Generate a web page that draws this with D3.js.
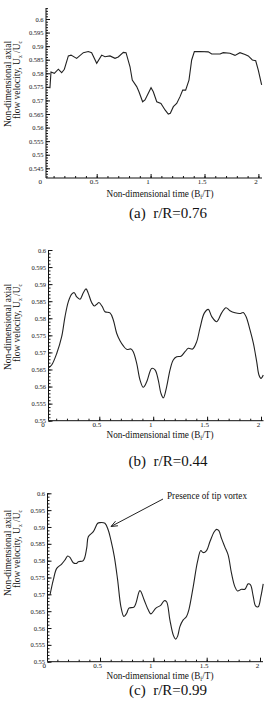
<!DOCTYPE html>
<html>
<head>
<meta charset="utf-8">
<script src="https://cdn.jsdelivr.net/npm/d3@7"></script>
<style>
  body { margin: 0; background: #fff; }
  svg text { font-family: "Liberation Serif", "DejaVu Serif", serif; fill: #111; }
</style>
</head>
<body>
<div id="container"></div>
<script>
// data: non-dimensional time vs axial velocity
var timeA = [0.066, 0.076, 0.107, 0.144, 0.175, 0.20, 0.237, 0.262, 0.314, 0.376, 0.422, 0.453, 0.50, 0.546, 0.577, 0.623, 0.67, 0.70, 0.747, 0.772, 0.809, 0.83, 0.871, 0.892, 0.926, 0.948, 1.004, 1.025, 1.057, 1.096, 1.134, 1.164, 1.183, 1.211, 1.242, 1.273, 1.298, 1.325, 1.356, 1.381, 1.406, 1.458, 1.535, 1.567, 1.644, 1.674, 1.736, 1.783, 1.829, 1.876, 1.906, 1.944, 1.975, 1.999, 2.03];
var velA  = [0.5745, 0.5805, 0.580, 0.5815, 0.5802, 0.5815, 0.5864, 0.5867, 0.5855, 0.5876, 0.588, 0.5876, 0.5837, 0.5867, 0.5861, 0.5864, 0.5855, 0.586, 0.5877, 0.5876, 0.5824, 0.5775, 0.5751, 0.5732, 0.5695, 0.5702, 0.5747, 0.5732, 0.5695, 0.5689, 0.5665, 0.565, 0.5653, 0.5677, 0.5689, 0.5714, 0.5738, 0.5738, 0.5775, 0.5849, 0.588, 0.588, 0.5879, 0.5871, 0.5871, 0.5876, 0.5874, 0.5866, 0.5876, 0.5869, 0.5864, 0.5849, 0.5846, 0.5812, 0.5757];

var timeB = [0.03, 0.058, 0.105, 0.151, 0.182, 0.213, 0.244, 0.268, 0.29, 0.321, 0.352, 0.377, 0.398, 0.429, 0.454, 0.476, 0.497, 0.528, 0.553, 0.599, 0.63, 0.661, 0.692, 0.723, 0.754, 0.794, 0.815, 0.847, 0.878, 0.908, 0.94, 0.986, 1.017, 1.047, 1.072, 1.094, 1.125, 1.156, 1.186, 1.218, 1.258, 1.295, 1.326, 1.366, 1.403, 1.434, 1.474, 1.511, 1.543, 1.589, 1.635, 1.675, 1.712, 1.759, 1.805, 1.836, 1.861, 1.898, 1.929, 1.96, 1.981, 2.0, 2.021];
var velB  = [0.5655, 0.5663, 0.5697, 0.5746, 0.5805, 0.5849, 0.5871, 0.5875, 0.5863, 0.5856, 0.5875, 0.5886, 0.5873, 0.5846, 0.5836, 0.5841, 0.5846, 0.5834, 0.5819, 0.5816, 0.5795, 0.5756, 0.5734, 0.5719, 0.5709, 0.571, 0.5702, 0.5668, 0.5619, 0.5598, 0.5614, 0.5653, 0.5649, 0.5619, 0.558, 0.5567, 0.56, 0.5649, 0.5678, 0.5687, 0.5689, 0.5702, 0.5712, 0.571, 0.5731, 0.5771, 0.5815, 0.5826, 0.5805, 0.579, 0.5816, 0.5831, 0.5822, 0.5816, 0.5814, 0.5817, 0.5805, 0.5766, 0.5727, 0.5673, 0.5634, 0.5624, 0.5634];

var timeC = [0.031, 0.062, 0.094, 0.14, 0.171, 0.197, 0.218, 0.249, 0.281, 0.296, 0.343, 0.375, 0.39, 0.437, 0.478, 0.5, 0.546, 0.577, 0.602, 0.634, 0.665, 0.696, 0.724, 0.75, 0.771, 0.821, 0.874, 0.914, 0.952, 0.977, 1.024, 1.071, 1.102, 1.124, 1.155, 1.187, 1.209, 1.228, 1.249, 1.28, 1.311, 1.333, 1.374, 1.414, 1.445, 1.467, 1.499, 1.53, 1.571, 1.593, 1.614, 1.639, 1.67, 1.701, 1.733, 1.764, 1.789, 1.827, 1.858, 1.889, 1.911, 1.936, 1.958, 1.983, 2.008, 2.03];
var velC  = [0.5698, 0.5743, 0.5777, 0.579, 0.5802, 0.5814, 0.581, 0.5794, 0.5792, 0.5797, 0.580, 0.5837, 0.5871, 0.5886, 0.5911, 0.5913, 0.5911, 0.5891, 0.5861, 0.5812, 0.5743, 0.5663, 0.5634, 0.5644, 0.5659, 0.5663, 0.5711, 0.5683, 0.5654, 0.5642, 0.5659, 0.5668, 0.5681, 0.5678, 0.5624, 0.5579, 0.5567, 0.5576, 0.5604, 0.5624, 0.5634, 0.5654, 0.5723, 0.5797, 0.583, 0.5824, 0.583, 0.5856, 0.5886, 0.5893, 0.5889, 0.5866, 0.5841, 0.5817, 0.5762, 0.5723, 0.571, 0.5715, 0.5715, 0.5731, 0.5728, 0.5695, 0.5666, 0.5663, 0.5693, 0.5731];

var xTickLabels = [0, 0.5, 1, 1.5, 2];
var yTicksA = [0.545, 0.55, 0.555, 0.56, 0.565, 0.57, 0.575, 0.58, 0.585, 0.59, 0.595, 0.6];
var yTicksBC = [0.55, 0.555, 0.56, 0.565, 0.57, 0.575, 0.58, 0.585, 0.59, 0.595, 0.6];
var captions = ["(a)  r/R=0.76", "(b)  r/R=0.44", "(c)  r/R=0.99"];

var width = 268, height = 703;

var svg = d3.select("#container").append("svg")
    .attr("width", width)
    .attr("height", height);

// layout of each panel (pixels)
var panels = [
    { time: timeA, vel: velA, yTicks: yTicksA, yDom: [0.545, 0.6], yRange: [168.3, 19],
      xRange: [42.8, 258.4], axisX: [46, 262], axisY: [8, 178], curve: d3.curveLinear,
      caption: captions[0], capY: 218, xTitleY: 196.5, yTitleC: 84 },
    { time: timeB, vel: velB, yTicks: yTicksBC, yDom: [0.55, 0.6], yRange: [420.7, 250],
      xRange: [45.4, 261], axisX: [48.5, 263.5], axisY: [250, 420.7], curve: d3.curveCatmullRom,
      caption: captions[1], capY: 466, xTitleY: 438, yTitleC: 327 },
    { time: timeC, vel: velC, yTicks: yTicksBC, yDom: [0.55, 0.6], yRange: [661.7, 493.3],
      xRange: [46.7, 260], axisX: [47.5, 263], axisY: [493.3, 661.7], curve: d3.curveCatmullRom,
      caption: captions[2], capY: 695, xTitleY: 679, yTitleC: 553 }
];

var fmt = function(d) { return String(+d.toFixed(3)); };

panels.forEach(function(p) {
    var g = svg.append("g");

    var x = d3.scaleLinear().domain([0, 2]).range(p.xRange);
    var y = d3.scaleLinear().domain(p.yDom).range(p.yRange);

    var y0 = p.axisY[1];
    var xMin = x.invert(p.axisX[0]), xMax = x.invert(p.axisX[1]);
    var vMin = y.invert(p.axisY[1]), vMax = y.invert(p.axisY[0]);

    // axis lines
    g.append("line")
        .attr("x1", p.axisX[0]).attr("x2", p.axisX[0])
        .attr("y1", p.axisY[0]).attr("y2", p.axisY[1])
        .attr("stroke", "#111").attr("stroke-width", 1);
    g.append("line")
        .attr("x1", p.axisX[0]).attr("x2", p.axisX[1])
        .attr("y1", y0).attr("y2", y0)
        .attr("stroke", "#111").attr("stroke-width", 1);

    // y axis: major ticks pointing in, minor every 0.001
    var yMinor = d3.range(Math.ceil(vMin * 1000), Math.floor(vMax * 1000) + 1)
        .map(function(k) { return k / 1000; });
    g.append("g")
        .attr("transform", "translate(" + p.axisX[0] + ",0)")
        .call(d3.axisLeft(y).tickValues(yMinor).tickSizeInner(-2).tickSizeOuter(0).tickFormat(""));
    var yAxis = g.append("g")
        .attr("transform", "translate(" + p.axisX[0] + ",0)")
        .call(d3.axisLeft(y).tickValues(p.yTicks).tickSizeInner(-4).tickSizeOuter(0)
            .tickPadding(2.5).tickFormat(fmt));
    yAxis.selectAll("text")
        .style("font-size", "6.5px");

    // x axis: majors at 0.5, minor every 0.1
    var xMinor = d3.range(1, 21).map(function(k) { return k / 10; })
        .filter(function(v) { return v >= xMin && v <= xMax; });
    g.append("g")
        .attr("transform", "translate(0," + y0 + ")")
        .call(d3.axisBottom(x).tickValues(xMinor).tickSizeInner(-2).tickSizeOuter(0).tickFormat(""));
    var xAxis = g.append("g")
        .attr("transform", "translate(0," + y0 + ")")
        .call(d3.axisBottom(x).tickValues(xTickLabels).tickSizeInner(-4).tickSizeOuter(0)
            .tickPadding(1).tickFormat(d3.format("")));
    xAxis.selectAll(".tick").filter(function(d) { return d < xMin; }).select("line").remove();
    xAxis.selectAll("text")
        .attr("dx", -3)
        .style("font-size", "7px");

    g.selectAll(".domain").remove();
    g.selectAll(".tick line").attr("stroke", "#111");

    // data line
    var line = d3.line()
        .x(function(d) { return x(d[0]); })
        .y(function(d) { return y(d[1]); })
        .curve(p.curve);
    g.append("path")
        .datum(d3.zip(p.time, p.vel))
        .attr("d", line)
        .attr("fill", "none")
        .attr("stroke", "#222")
        .attr("stroke-width", 1.1);

    // x title
    var xt = g.append("text")
        .attr("x", 160).attr("y", p.xTitleY)
        .attr("text-anchor", "middle")
        .style("font-size", "9.5px")
        .attr("textLength", 107).attr("lengthAdjust", "spacingAndGlyphs");
    xt.append("tspan").text("Non-dimensional time (B");
    xt.append("tspan").attr("dy", 2).style("font-size", "6px").text("f");
    xt.append("tspan").attr("dy", -2).text("/T)");

    // y title, two rotated lines
    g.append("text")
        .attr("transform", "translate(11," + p.yTitleC + ") rotate(-90)")
        .attr("text-anchor", "middle")
        .style("font-size", "10px")
        .attr("textLength", 86).attr("lengthAdjust", "spacingAndGlyphs")
        .text("Non-dimensional axial");
    var yt2 = g.append("text")
        .attr("transform", "translate(19.5," + (p.yTitleC - 4) + ") rotate(-90)")
        .attr("text-anchor", "middle")
        .style("font-size", "10px")
        .attr("textLength", 78).attr("lengthAdjust", "spacingAndGlyphs");
    yt2.append("tspan").text("flow velocity, U");
    yt2.append("tspan").attr("dy", 2).style("font-size", "6px").text("x");
    yt2.append("tspan").attr("dy", -2).text(" /U");
    yt2.append("tspan").attr("dy", 2).style("font-size", "6px").text("c");

    // caption
    g.append("text")
        .attr("x", 168).attr("y", p.capY)
        .attr("text-anchor", "middle")
        .style("font-size", "15px")
        .attr("xml:space", "preserve")
        .text(p.caption);
});

// annotation on the last panel
svg.append("text")
    .attr("x", 167).attr("y", 499)
    .style("font-size", "10px")
    .attr("textLength", 80).attr("lengthAdjust", "spacingAndGlyphs")
    .text("Presence of tip vortex");

var tip = [111, 526.5], tail = [163, 499];
var ang = Math.atan2(tail[1] - tip[1], tail[0] - tip[0]);
var head = 7, spread = 0.38;
svg.append("path")
    .attr("d", "M" + tail[0] + "," + tail[1] + "L" + tip[0] + "," + tip[1] +
        "M" + (tip[0] + head * Math.cos(ang + spread)) + "," + (tip[1] + head * Math.sin(ang + spread)) +
        "L" + tip[0] + "," + tip[1] +
        "L" + (tip[0] + head * Math.cos(ang - spread)) + "," + (tip[1] + head * Math.sin(ang - spread)))
    .attr("fill", "none")
    .attr("stroke", "#222")
    .attr("stroke-width", 1);
</script>
</body>
</html>
